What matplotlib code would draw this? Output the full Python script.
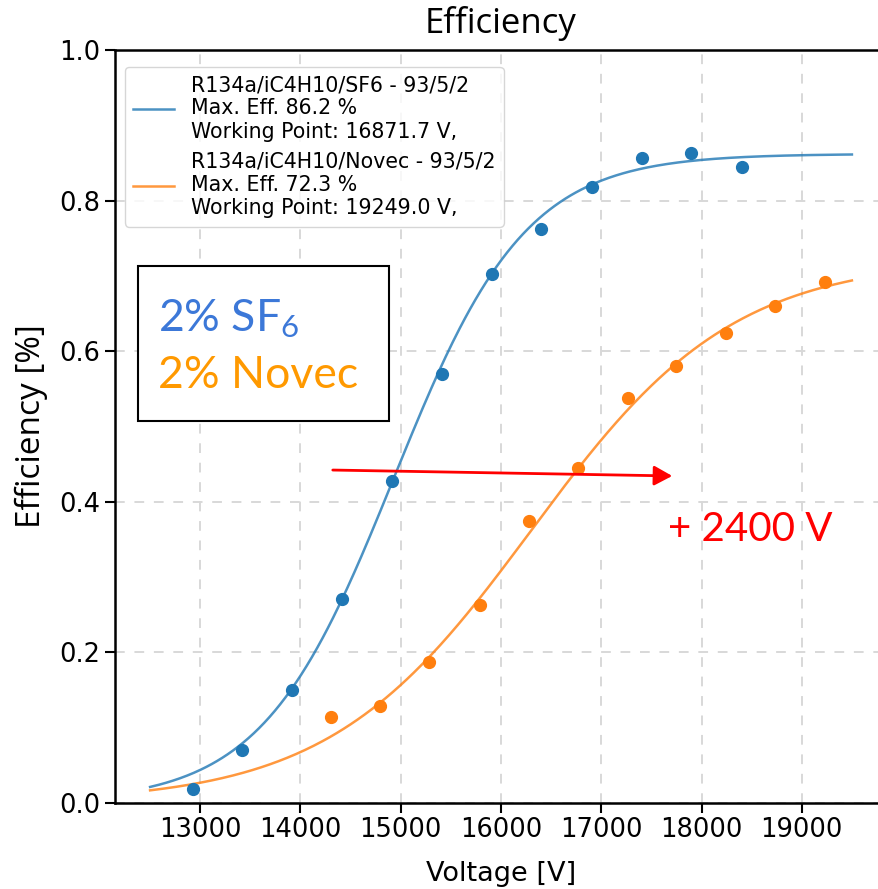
import numpy as np
import matplotlib
matplotlib.use("Agg")
import matplotlib.pyplot as plt
from matplotlib.patches import Rectangle, FancyArrowPatch

# ---- data ----
sf6_voltage = [12930, 13420, 13920, 14415, 14915, 15415, 15910, 16400, 16905, 17405, 17895, 18400]
sf6_eff = [0.018, 0.070, 0.150, 0.271, 0.427, 0.570, 0.702, 0.762, 0.818, 0.856, 0.863, 0.845]
sf6_err = [0.008] * len(sf6_voltage)

novec_voltage = [14305, 14795, 15285, 15790, 16280, 16770, 17265, 17745, 18245, 18735, 19235]
novec_eff = [0.114, 0.128, 0.187, 0.263, 0.374, 0.445, 0.538, 0.580, 0.624, 0.660, 0.692]
novec_err = [0.008] * len(novec_voltage)

# sigmoid fit parameters (Emax, lambda, HV50)
sf6_fit = (0.862, 0.00152, 14930)
novec_fit = (0.723, 0.00099, 16300)
fit_range = (12500, 19500)

sf6_label = "R134a/iC4H10/SF6 - 93/5/2\nMax. Eff. 86.2 %\nWorking Point: 16871.7 V,"
novec_label = "R134a/iC4H10/Novec - 93/5/2\nMax. Eff. 72.3 %\nWorking Point: 19249.0 V,"

xticks = [13000, 14000, 15000, 16000, 17000, 18000, 19000]
yticks = [0.0, 0.2, 0.4, 0.6, 0.8, 1.0]

plt.rcParams['mathtext.fontset'] = 'custom'
plt.rcParams['mathtext.rm'] = 'Lato'
plt.rcParams['mathtext.it'] = 'Lato:italic'

def sigmoid(v, p):
    emax, lam, v50 = p
    return emax / (1.0 + np.exp(-lam * (v - v50)))

fig = plt.figure(figsize=(8.79, 8.89), dpi=100)
ax = fig.add_axes([115/879, 86.3/889, (887-115)/879, (802.7-50)/889])

blue = '#1f77b4'
orange = '#ff7f0e'

vv = np.linspace(fit_range[0], fit_range[1], 400)
ax.plot(vv, sigmoid(vv, sf6_fit), color=blue, lw=1.8, alpha=0.8, label=sf6_label)
ax.plot(vv, sigmoid(vv, novec_fit), color=orange, lw=1.8, alpha=0.8, label=novec_label)
ax.errorbar(sf6_voltage, sf6_eff, yerr=sf6_err, fmt='o', color=blue, ms=8.5, elinewidth=1.5, capsize=0)
ax.errorbar(novec_voltage, novec_eff, yerr=novec_err, fmt='o', color=orange, ms=8.5, elinewidth=1.5, capsize=0)

ax.set_xlim(12150, 19850)
ax.set_ylim(0, 1.0)
ax.set_xticks(xticks)
ax.set_yticks(yticks)
ax.grid(True, linestyle=(0, (5, 5)), color='#d8d8d8', lw=1.4)
ax.tick_params(labelsize=18.5, length=7, width=1.5)
for s in ax.spines.values():
    s.set_linewidth(1.8)
ax.spines['right'].set_visible(False)

ax.set_xlabel("Voltage [V]", fontsize=19.5, labelpad=13)
ax.set_ylabel("Efficiency [%]", fontsize=24, family='Open Sans', labelpad=8)
ax.set_title("Efficiency", fontsize=25, family='Open Sans', pad=12)

ax.legend(loc='upper left', bbox_to_anchor=((125-115)/772, (802.7-67)/752.7),
          borderaxespad=0, fontsize=14.8, handlelength=2.0)

# overlay box
fig.add_artist(Rectangle((138/879, (889-421)/889), 251/879, 155/889,
                         transform=fig.transFigure, facecolor='white',
                         edgecolor='black', lw=1.5, zorder=10))
fig.text(158/879, (889-331)/889, "2% SF$_6$", family='Lato', fontsize=32,
         color='#3c78d8', va='baseline', ha='left', zorder=11)
fig.text(158/879, (889-388)/889, "2% Novec", family='Lato', fontsize=32,
         color='#ff9900', va='baseline', ha='left', zorder=11)

# red arrow and label
fig.add_artist(FancyArrowPatch((330/879, (889-470)/889), (675/879, (889-476)/889),
                               transform=fig.transFigure,
                               arrowstyle='-|>,head_length=0.55,head_width=0.3',
                               mutation_scale=20, color='red', lw=2, zorder=12))
fig.text(668/879, (889-541)/889, "+ 2400 V", family='Lato', fontsize=29,
         color='red', va='baseline', ha='left', zorder=12)

fig.savefig("out.png", dpi=100)
